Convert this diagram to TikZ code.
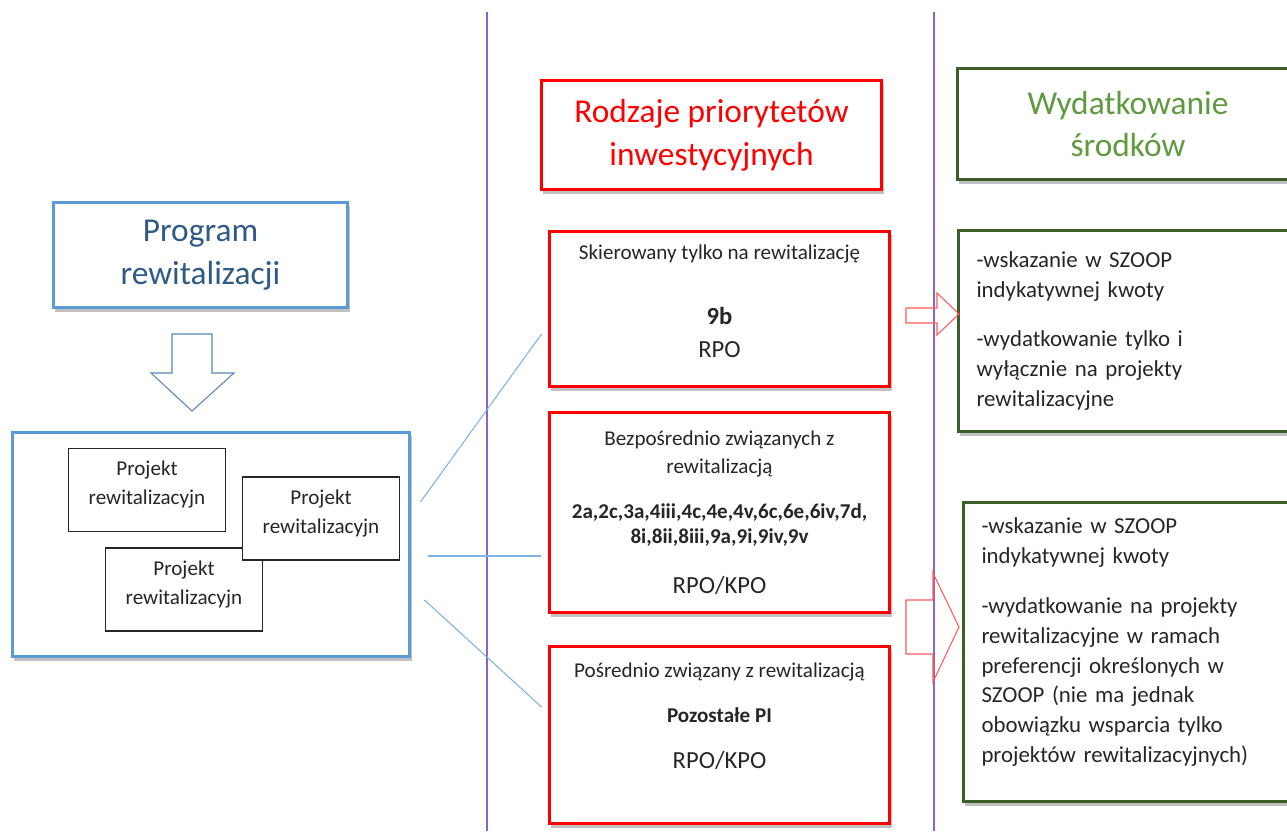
\documentclass[tikz,border=0pt]{standalone}
\usepackage{fontspec}
\setmainfont{Carlito}
\usetikzlibrary{shadows}
\definecolor{progblue}{HTML}{5B9BD5}
\definecolor{progtext}{HTML}{2F5A87}
\definecolor{arrowblue}{HTML}{5A86B8}
\definecolor{linkblue}{HTML}{7EB2E0}
\definecolor{darkgreen}{HTML}{3B5E2B}
\definecolor{titlegreen}{HTML}{5F9A3F}
\definecolor{lilac}{HTML}{8E63C9}
\definecolor{lightred}{HTML}{FF5A5A}
\definecolor{txtgray}{HTML}{262626}
\begin{document}
\begin{tikzpicture}[x=0.02cm,y=-0.02cm,every node/.style={draw,rectangle,fill=white,inner sep=0pt,text=txtgray},boxshadow/.style={drop shadow={shadow xshift=1pt,shadow yshift=-2.5pt,opacity=0.35,fill=black!70}},bluebox/.style={draw=progblue,line width=1.7pt,boxshadow},redbox/.style={draw=red,line width=1.7pt,boxshadow,minimum width=6.82cm},greenbox/.style={draw=darkgreen,line width=1.7pt,boxshadow},projbox/.style={draw=black!85,line width=0.9pt,minimum width=3.14cm,minimum height=1.66cm,align=center,font=\fontsize{12}{16.5}\selectfont,text depth=8pt},titletext/.style={align=center,font=\fontsize{19}{24.4}\selectfont},smalltext/.style={align=center,font=\fontsize{12}{15}\selectfont},rightbox/.style={greenbox,anchor=west,text width=6.3cm,inner xsep=0.36cm,align=left,font=\fontsize{13}{17}\selectfont},linkline/.style={draw=linkblue,line width=0.6pt},blockarrow/.style={line width=0.6pt,line join=miter}]
            \clip (0,0) rectangle (1287,831);
            \draw[lilac,line width=0.8pt] (487,12) -- (487,831);
            \draw[lilac,line width=0.8pt] (934,12) -- (934,831);
            \node[bluebox,titletext,text=progtext,minimum width=5.9cm,minimum height=2.12cm] (prog) at (200.5,255) {Program\\rewitalizacji};
            \draw[blockarrow,arrowblue] (172,334) -- (212,334) -- (212,373) -- (234,373) -- (192,411) -- (151,373) -- (172,373) -- cycle;
            \node[bluebox,minimum width=7.96cm,minimum height=4.5cm] (cont) at (211,544.5) {};
            \node[projbox] (proj1) at (147,490) {Projekt\\rewitalizacyjn};
            \node[projbox] (proj3) at (184,589.5) {Projekt\\rewitalizacyjn};
            \node[projbox] (proj2) at (321,518.5) {Projekt\\rewitalizacyjn};
            \node[redbox,titletext,text=red,minimum height=2.2cm] (prior) at (711.5,135) {Rodzaje priorytetów\\inwestycyjnych};
            \node[greenbox,titletext,text=titlegreen,minimum width=6.84cm,minimum height=2.24cm] (spend) at (1128,124) {Wydatkowanie\\środków};
            \node[redbox,smalltext,minimum height=3.12cm] (only) at (719.5,309) {Skierowany tylko na rewitalizację\\[22pt]{\fontsize{14}{15}\selectfont\bfseries 9b}\\[3.7pt]{\fontsize{14}{15}\selectfont RPO}\\[-6.4pt]\mbox{}};
            \node[redbox,smalltext,minimum height=4.02cm] (direct) at (719.5,512.5) {Bezpośrednio związanych z\\[1.4pt]rewitalizacją\\[10.5pt]{\bfseries 2a,2c,3a,4iii,4c,4e,4v,6c,6e,6iv,7d,}\\[-0.8pt]{\bfseries 8i,8ii,8iii,9a,9i,9iv,9v}\\[13.4pt]{\fontsize{14}{15}\selectfont RPO/KPO}};
            \node[redbox,smalltext,minimum height=3.56cm] (indirect) at (719.5,735) {Pośrednio związany z rewitalizacją\\[10.5pt]{\bfseries Pozostałe PI}\\[11pt]{\fontsize{14}{15}\selectfont RPO/KPO}\\[7pt]\mbox{}};
            \node[rightbox,minimum height=4.04cm] (spend1) at (957,331) {-wskazanie w SZOOP\\indykatywnej kwoty\\[11.4pt]-wydatkowanie tylko i\\wyłącznie na projekty\\rewitalizacyjne};
            \node[rightbox,minimum height=6cm] (spend2) at (962,652) {-wskazanie w SZOOP\\indykatywnej kwoty\\[11.4pt]-wydatkowanie na projekty\\rewitalizacyjne w ramach\\preferencji określonych w\\SZOOP (nie ma jednak\\obowiązku wsparcia tylko\\projektów rewitalizacyjnych)\\[-3.5pt]\mbox{}};
            \draw[linkline] ([shift={(9,-42.5)}]cont.east) -- ([shift={(-6,25)}]only.west);
            \draw[linkline] ([shift={(17,11.5)}]cont.east) -- ([shift={(-7,43.5)}]direct.west);
            \draw[linkline] ([shift={(13,55.5)}]cont.east) -- ([shift={(-6,-28)}]indirect.west);
            \draw[blockarrow,lightred] (906,308) -- (937,308) -- (937,293) -- (959,314) -- (937,335) -- (937,323) -- (906,323) -- cycle;
            \draw[blockarrow,lightred] (906,600) -- (933,600) -- (933,573) -- (959,627) -- (933,682) -- (933,654) -- (906,654) -- cycle;
        \end{tikzpicture}
\end{document}
